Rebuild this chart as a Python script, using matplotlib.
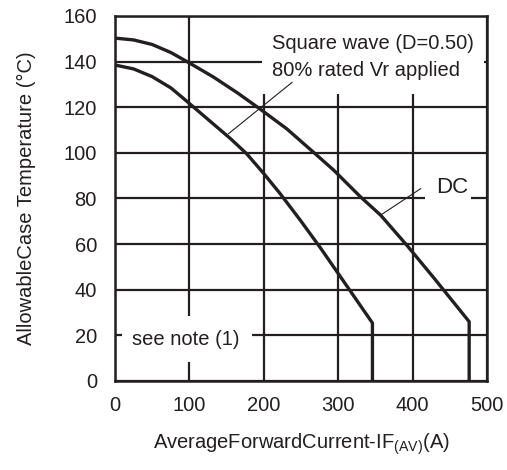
import matplotlib
matplotlib.use("Agg")
import matplotlib.pyplot as plt
from matplotlib.patches import Rectangle

plt.rcParams['font.family'] = ['Liberation Sans', 'DejaVu Sans']
plt.rcParams['mathtext.fontset'] = 'custom'
plt.rcParams['mathtext.rm'] = 'Liberation Sans'

# DC curve
dc_current = [0, 25, 50, 75, 100, 132, 165, 195, 231, 267, 294, 330, 357, 393, 429, 476, 476]
dc_temp = [150.3, 149.5, 147.5, 144, 139.4, 133.3, 126.2, 119.2, 110.5, 100.2, 92.4, 80.7, 72.7, 59.2, 45, 26, 0]

# square wave D=0.50, 80% rated Vr
sq_current = [0, 25, 50, 75, 87.5, 103, 132, 155, 177, 200, 222, 249, 276, 303, 346, 346]
sq_temp = [138.5, 136.8, 133.4, 128.5, 125.1, 120.8, 112.7, 106.3, 99.6, 90.9, 82.1, 70.5, 58.4, 45.7, 25.4, 0]

x_ticks = [0, 100, 200, 300, 400, 500]
y_ticks = [0, 20, 40, 60, 80, 100, 120, 140, 160]

ink = '#231f20'

fig = plt.figure(figsize=(5.07, 4.70), dpi=100)
ax = fig.add_axes([0.2268, 0.1894, 0.7338, 0.7766])

ax.set_xlim(0, 500)
ax.set_ylim(0, 160)
ax.set_xticks(x_ticks)
ax.set_yticks(y_ticks)
ax.tick_params(length=0, labelsize=14.5, colors=ink)
ax.tick_params(axis='x', pad=11)
ax.tick_params(axis='y', pad=13)
ax.set_axisbelow(True)
ax.grid(True, color=ink, linewidth=1.6)
for s in ax.spines.values():
    s.set_linewidth(1.8)
    s.set_color(ink)

# white areas behind the labels (grid is cut there)
ax.add_patch(Rectangle((198, 126), 298, 40, facecolor='white', edgecolor='none', zorder=1))
ax.add_patch(Rectangle((416, 78), 63, 17, facecolor='white', edgecolor='none', zorder=1))
ax.add_patch(Rectangle((9.5, 8.3), 174.5, 20.2, facecolor='white', edgecolor='none', zorder=1))

ax.plot(dc_current, dc_temp, color=ink, linewidth=2.4, zorder=3)
ax.plot(sq_current, sq_temp, color=ink, linewidth=2.4, zorder=3)

# leader lines
ax.plot([238, 152.6], [130.9, 108.4], color=ink, linewidth=0.8, zorder=3)
ax.plot([410.8, 357], [84.3, 72.7], color=ink, linewidth=0.8, zorder=3)

ax.text(211, 145.5, 'Square wave (D=0.50)', fontsize=14.5, color=ink, va='baseline', zorder=4)
ax.text(211, 133.8, '80% rated Vr applied', fontsize=14.5, color=ink, va='baseline', zorder=4)
ax.text(431, 82.2, 'DC', fontsize=16, color=ink, va='baseline', zorder=4)
ax.text(22.5, 15.9, 'see note (1)', fontsize=14.5, color=ink, va='baseline', zorder=4)

ax.set_ylabel('AllowableCase Temperature (°C)', fontsize=14.5, color=ink, labelpad=20)
ax.set_xlabel('AverageForwardCurrent-IF$_{\\mathregular{(AV)}}$(A)', fontsize=14.5,
              color=ink, labelpad=12)

fig.savefig('out.png', dpi=100)
